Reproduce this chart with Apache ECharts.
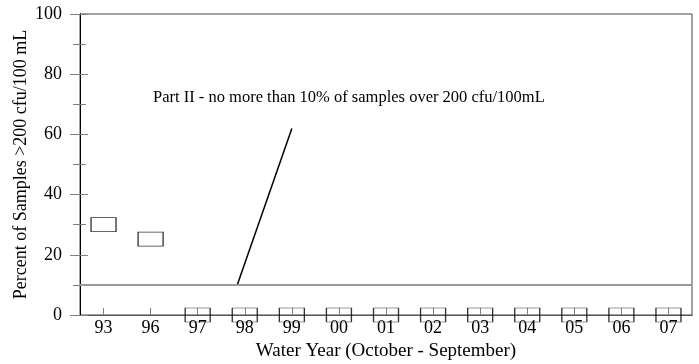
<!DOCTYPE html>
<html>
<head>
<meta charset="utf-8">
<script src="https://cdn.jsdelivr.net/npm/echarts@6/dist/echarts.min.js"></script>
<style>
    html, body { margin: 0; padding: 0; background: #fff; }
    #chart { width: 699px; height: 364px; }
</style>
</head>
<body>
<div id="chart"></div>
<script>
// water years on the x axis
var years = ['93', '96', '97', '98', '99', '00', '01', '02', '03', '04', '05', '06', '07'];
// percent of samples over 200 cfu/100 mL
var percents = [30, 25.2, 0, 0, 0, 0, 0, 0, 0, 0, 0, 0, 0];
// criterion (10%)
var limitValue = 10;
// pointer line from the label down to the limit: [x index, y value]
var pointerLine = [[2.84, 10], [4, 62]];
var noteText = 'Part II - no more than 10% of samples over 200 cfu/100mL';

var font = 'Liberation Serif';
var tickColor = '#808080';

// plot box, px
var gridLeft = 80, gridRight = 7, gridTop = 14, gridBottom = 49;
var plotW = 699 - gridLeft - gridRight;
var plotH = 364 - gridTop - gridBottom;

var myChart = echarts.init(document.getElementById('chart'));

var yBase = {
    type: 'value',
    min: 0,
    max: 100,
    interval: 20,
    splitLine: { show: false },
};

var option = {
    animation: false,
    grid: {
        left: gridLeft,
        right: gridRight,
        top: gridTop,
        bottom: gridBottom,
        outerBoundsMode: 'none',
        show: true,
        borderColor: '#444',
        borderWidth: 1,
    },
    xAxis: [
        {
            type: 'category',
            data: years,
            boundaryGap: true,
            position: 'bottom',
            name: 'Water Year (October - September)',
            nameLocation: 'middle',
            nameGap: 27,
            nameMoveOverlap: false,
            nameTextStyle: { fontFamily: font, fontSize: 19, color: '#000' },
            axisLine: { onZero: false, lineStyle: { color: '#555' } },
            axisTick: { alignWithLabel: true, length: 3, lineStyle: { color: tickColor } },
            axisLabel: { fontFamily: font, fontSize: 18, color: '#000', margin: 4 },
        },
        {
            // second copy pulled down onto the bottom edge, ticks pointing up
            type: 'category',
            data: years,
            boundaryGap: true,
            position: 'top',
            offset: -plotH,
            axisLine: { show: true, onZero: false, lineStyle: { color: '#555' } },
            axisTick: { show: true, interval: 0, alignWithLabel: true, length: 7, lineStyle: { color: tickColor } },
            axisLabel: { show: false },
        },
        {
            // plain numeric axis over the same band, for the pointer line
            type: 'value',
            min: -0.5,
            max: years.length - 0.5,
            show: false,
        },
    ],
    yAxis: [
        Object.assign({}, yBase, {
            position: 'left',
            name: 'Percent of Samples >200 cfu/100 mL',
            nameLocation: 'middle',
            nameGap: 50,
            nameMoveOverlap: false,
            nameTextStyle: { fontFamily: font, fontSize: 18, color: '#000' },
            axisLine: { show: true, onZero: false, lineStyle: { color: '#000' } },
            axisTick: { show: true, length: 10, lineStyle: { color: tickColor } },
            minorTick: { show: true, splitNumber: 2, length: 7, lineStyle: { color: tickColor } },
            axisLabel: { fontFamily: font, fontSize: 18, color: '#000', margin: 18 },
        }),
        Object.assign({}, yBase, {
            // second copy pulled left onto the y axis, ticks pointing right
            position: 'right',
            offset: -plotW,
            axisLine: { show: true, onZero: false, lineStyle: { color: '#000' } },
            axisTick: { show: true, length: 8, lineStyle: { color: tickColor } },
            minorTick: { show: true, splitNumber: 2, length: 6, lineStyle: { color: tickColor } },
            axisLabel: { show: false },
        }),
    ],
    graphic: [
        {
            type: 'text',
            left: 153,
            top: 89,
            style: { text: noteText, fontFamily: font, fontSize: 16.5, fill: '#000' },
        },
    ],
    series: [
        {
            type: 'scatter',
            xAxisIndex: 0,
            yAxisIndex: 0,
            symbol: 'rect',
            symbolSize: [25, 14],
            itemStyle: { color: 'rgba(0,0,0,0)', borderColor: '#000', borderWidth: 1 },
            data: percents,
            z: 5,
            markLine: {
                silent: true,
                symbol: 'none',
                label: { show: false },
                lineStyle: { color: '#999', width: 2, type: 'solid' },
                data: [{ yAxis: limitValue }],
            },
        },
        {
            type: 'line',
            xAxisIndex: 2,
            yAxisIndex: 0,
            data: pointerLine,
            showSymbol: false,
            symbol: 'none',
            lineStyle: { color: '#000', width: 1.5 },
        },
    ],
};

myChart.setOption(option);
</script>
</body>
</html>
